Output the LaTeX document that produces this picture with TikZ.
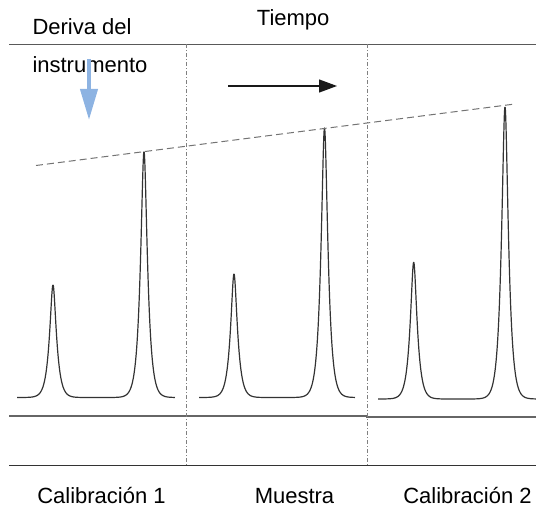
\documentclass[tikz,border=0pt]{standalone}
\usepackage{fontspec}
\setmainfont{Liberation Sans}
\usepackage{xcolor}
\usetikzlibrary{arrows.meta}
\definecolor{driftblue}{HTML}{8DB3E2}

\begin{document}
\begin{tikzpicture}[
  x=1pt, y=-1pt,
  font=\fontsize{22}{26}\selectfont,
  declare function={pk(\x,\c,\h)=\h*exp((2-veclen(\x-\c,2))/3.5);},
  caption/.style={anchor=base west, inner sep=0pt},
  title/.style={anchor=base, inner sep=0pt},
  frame/.style={draw=black!65, line width=1.1pt},
  divider/.style={draw=black!50, line width=.8pt, dash pattern=on 4pt off 2pt on 1pt off 2pt},
  trace/.style={draw=black!80, line width=1.2pt, line join=round},
  drift/.style={draw=black!55, line width=1pt, dash pattern=on 7pt off 4pt},
  timearrow/.style={-{Triangle[length=18pt,width=13pt]}, draw=black!90, line width=1.3pt},
  driftarrow/.style={-{Triangle[length=31pt,width=17pt]}, draw=driftblue, line width=4pt}
]
\useasboundingbox (0,0) rectangle (536,508);
% texts
\node[caption] (deriva) at (32.3,35) {Deriva del};
\node[caption] (instr) at (32.3,72.7) {instrumento};
\node[caption] (tiempo) at (256.7,26) {Tiempo};
\node[title] (cal1) at (101.5,503) {Calibración 1};
\node[title] (muestra) at (294.5,503) {Muestra};
\node[title] (cal2) at (467.5,503) {Calibración 2};
% frame and dividers
\draw[frame] (9,44.3) -- (536,44.3);
\draw[frame, draw=black!60] (9,416) -- (367,416) -- (367,417) -- (536,417);
\draw[frame, draw=black!80] (9,465.5) -- (536,465.5);
\draw[divider] (186,44.3) -- (186,465.5);
\draw[divider] (367,44.3) -- (367,465.5);
% chromatograms
\draw[trace] plot[domain=17:175, samples=600, smooth] (\x,{397.5-pk(\x,53,112.5)-pk(\x,144,245.8)});
\draw[trace] plot[domain=199:355, samples=600, smooth] (\x,{397.5-pk(\x,234,123.5)-pk(\x,324.5,269.5)});
\draw[trace] plot[domain=378:536, samples=600, smooth] (\x,{399-pk(\x,413.7,136.7)-pk(\x,505,292)});
% drift line and arrows
\coordinate (drift start) at (36,165.5);
\coordinate (drift end) at (515,104);
\draw[drift] (drift start) -- (drift end);
\coordinate (time start) at (228,86);
\coordinate (time end) at (337,86);
\draw[timearrow] (time start) -- (time end);
\coordinate (shift top) at (89,59);
\coordinate (shift tip) at (89,120);
\draw[driftarrow] (shift top) -- (shift tip);
\end{tikzpicture}
\end{document}
